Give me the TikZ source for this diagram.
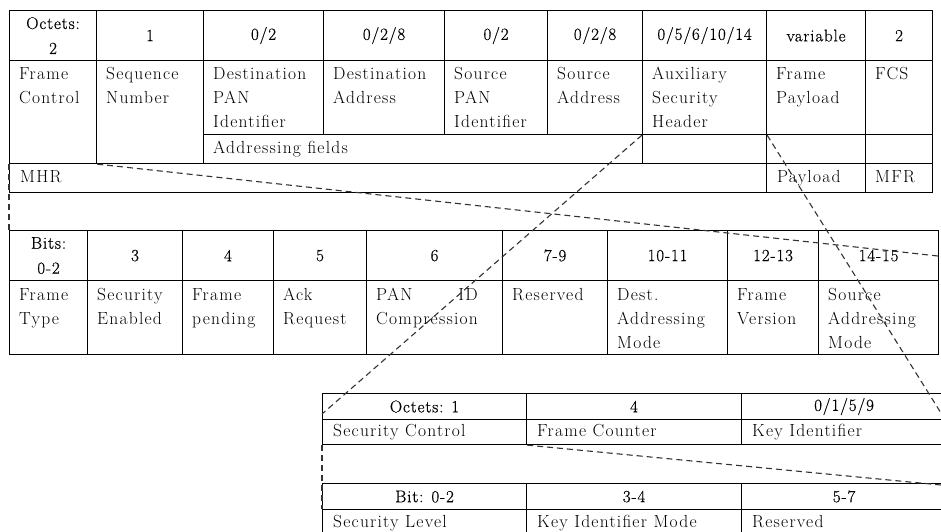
\documentclass[tikz,border=0pt]{standalone}
\usepackage{fontspec}
\setmainfont{Latin Modern Roman}[LetterSpace=7]
\newfontfamily\hdfont{Latin Modern Roman}[LetterSpace=5, FakeBold=0.4]
\begin{document}
\begin{tikzpicture}[x=1pt,y=-1pt,
  cell/.style={draw, line width=1.1pt, anchor=north west, inner sep=0pt, align=center,
    font=\hdfont\fontsize{17}{25}\selectfont},
  lab/.style={anchor=north west, inner sep=0pt, align=left, font=\fontsize{17.5}{24}\selectfont},
  slab/.style={anchor=west, inner sep=0pt, text height=12pt, text depth=3.5pt, font=\fontsize{17.5}{18}\selectfont},
  zoomline/.style={draw=black!80, line width=1.1pt, dash pattern=on 6pt off 4pt}]
\useasboundingbox (0,0) rectangle (941,531);
\clip (0,0) rectangle (941,531);
\fill[white] (0,0) rectangle (941,531);
% ---------- MAC frame table ----------
\node[cell, minimum width=87pt, minimum height=50pt] (h1) at (9,10) {Octets:\\2};
\node[cell, minimum width=107pt, minimum height=50pt] (h2) at (96,10) {1};
\node[cell, minimum width=120pt, minimum height=50pt] (h3) at (203,10) {0/2};
\node[cell, minimum width=121pt, minimum height=50pt] (h4) at (323,10) {0/2/8};
\node[cell, minimum width=103pt, minimum height=50pt] (h5) at (444,10) {0/2};
\node[cell, minimum width=95pt, minimum height=50pt] (h6) at (547,10) {0/2/8};
\node[cell, minimum width=124pt, minimum height=50pt] (h7) at (642,10) {0/5/6/10/14};
\node[cell, minimum width=99pt, minimum height=50pt] (h8) at (766,10) {variable};
\node[cell, minimum width=67pt, minimum height=50pt] (h9) at (865,10) {2};
% field cells
\node[cell, minimum width=87pt, minimum height=103pt] (fc) at (9,60) {};
\node[cell, minimum width=107pt, minimum height=103pt] (sn) at (96,60) {};
\node[cell, minimum width=120pt, minimum height=74pt] (dpan) at (203,60) {};
\node[cell, minimum width=121pt, minimum height=74pt] (dadr) at (323,60) {};
\node[cell, minimum width=103pt, minimum height=74pt] (span) at (444,60) {};
\node[cell, minimum width=95pt, minimum height=74pt] (sadr) at (547,60) {};
\node[cell, minimum width=124pt, minimum height=74pt] (ash) at (642,60) {};
\node[cell, minimum width=99pt, minimum height=74pt] (fp) at (766,60) {};
\node[cell, minimum width=67pt, minimum height=74pt] (fcs) at (865,60) {};
\node[lab] at ([xshift=10pt,yshift=-6pt]fc.north west) {\rule{0pt}{13pt}Frame\\Control};
\node[lab] at ([xshift=10pt,yshift=-6pt]sn.north west) {\rule{0pt}{13pt}Sequence\\Number};
\node[lab] at ([xshift=10pt,yshift=-6pt]dpan.north west) {\rule{0pt}{13pt}Destination\\PAN\\Identifier};
\node[lab] at ([xshift=10pt,yshift=-6pt]dadr.north west) {\rule{0pt}{13pt}Destination\\Address};
\node[lab] at ([xshift=10pt,yshift=-6pt]span.north west) {\rule{0pt}{13pt}Source\\PAN\\Identifier};
\node[lab] at ([xshift=10pt,yshift=-6pt]sadr.north west) {\rule{0pt}{13pt}Source\\Address};
\node[lab] at ([xshift=10pt,yshift=-6pt]ash.north west) {\rule{0pt}{13pt}Auxiliary\\Security\\Header};
\node[lab] at ([xshift=10pt,yshift=-6pt]fp.north west) {\rule{0pt}{13pt}Frame\\Payload};
\node[lab] at ([xshift=10pt,yshift=-6pt]fcs.north west) {\rule{0pt}{13pt}FCS};
% grouping rows
\node[cell, minimum width=439pt, minimum height=29pt] (addr) at (203,134) {};
\node[cell, minimum width=124pt, minimum height=29pt] (g2) at (642,134) {};
\node[cell, minimum width=99pt, minimum height=29pt] (g3) at (766,134) {};
\node[cell, minimum width=67pt, minimum height=29pt] (g4) at (865,134) {};
\node[slab] at ([xshift=10pt]addr.west) {Addressing fields};
\node[cell, minimum width=757pt, minimum height=29pt] (mhr) at (9,163) {};
\node[cell, minimum width=99pt, minimum height=29pt] (pl) at (766,163) {};
\node[cell, minimum width=67pt, minimum height=29pt] (mfr) at (865,163) {};
\node[slab] at ([xshift=11pt]mhr.west) {MHR};
\node[slab] at ([xshift=11pt]pl.west) {Payload};
\node[slab] at ([xshift=10pt]mfr.west) {MFR};
% ---------- Frame control bits ----------
\node[cell, minimum width=78pt, minimum height=50pt] (b1) at (9,230) {Bits:\\0-2};
\node[cell, minimum width=95pt, minimum height=50pt] (b2) at (87,230) {3};
\node[cell, minimum width=91pt, minimum height=50pt] (b3) at (182,230) {4};
\node[cell, minimum width=93pt, minimum height=50pt] (b4) at (273,230) {5};
\node[cell, minimum width=136pt, minimum height=50pt] (b5) at (366,230) {6};
\node[cell, minimum width=105pt, minimum height=50pt] (b6) at (502,230) {7-9};
\node[cell, minimum width=120pt, minimum height=50pt] (b7) at (607,230) {10-11};
\node[cell, minimum width=91pt, minimum height=50pt] (b8) at (727,230) {12-13};
\node[cell, minimum width=120pt, minimum height=50pt] (b9) at (818,230) {14-15};
\node[cell, minimum width=78pt, minimum height=74pt] (ft) at (9,280) {};
\node[cell, minimum width=95pt, minimum height=74pt] (se) at (87,280) {};
\node[cell, minimum width=91pt, minimum height=74pt] (fpd) at (182,280) {};
\node[cell, minimum width=93pt, minimum height=74pt] (ar) at (273,280) {};
\node[cell, minimum width=136pt, minimum height=74pt] (pc) at (366,280) {};
\node[cell, minimum width=105pt, minimum height=74pt] (rs) at (502,280) {};
\node[cell, minimum width=120pt, minimum height=74pt] (dam) at (607,280) {};
\node[cell, minimum width=91pt, minimum height=74pt] (fv) at (727,280) {};
\node[cell, minimum width=120pt, minimum height=74pt] (sam) at (818,280) {};
\node[lab] at ([xshift=10pt,yshift=-7pt]ft.north west) {\rule{0pt}{13pt}Frame\\Type};
\node[lab] at ([xshift=10pt,yshift=-7pt]se.north west) {\rule{0pt}{13pt}Security\\Enabled};
\node[lab] at ([xshift=10pt,yshift=-7pt]fpd.north west) {\rule{0pt}{13pt}Frame\\pending};
\node[lab] at ([xshift=10pt,yshift=-7pt]ar.north west) {\rule{0pt}{13pt}Ack\\Request};
\node[lab] at ([xshift=10pt,yshift=-7pt]pc.north west) {\rule{0pt}{13pt}\rlap{PAN}\hphantom{Compression}\llap{ID}\\Compression};
\node[lab] at ([xshift=10pt,yshift=-7pt]rs.north west) {\rule{0pt}{13pt}Reserved};
\node[lab] at ([xshift=10pt,yshift=-7pt]dam.north west) {\rule{0pt}{13pt}Dest.\\Addressing\\Mode};
\node[lab] at ([xshift=10pt,yshift=-7pt]fv.north west) {\rule{0pt}{13pt}Frame\\Version};
\node[lab] at ([xshift=10pt,yshift=-7pt]sam.north west) {\rule{0pt}{13pt}Source\\Addressing\\Mode};
% ---------- Auxiliary security header ----------
\node[cell, minimum width=204pt, minimum height=26pt] (a1) at (322,393) {Octets: 1};
\node[cell, minimum width=215pt, minimum height=26pt] (a2) at (526,393) {4};
\node[cell, minimum width=205pt, minimum height=26pt] (a3) at (741,393) {0/1/5/9};
\node[cell, minimum width=204pt, minimum height=25pt] (sc) at (322,419) {};
\node[cell, minimum width=215pt, minimum height=25pt] (fcn) at (526,419) {};
\node[cell, minimum width=205pt, minimum height=25pt] (kid) at (741,419) {};
\node[slab] at ([xshift=11pt]sc.west) {Security Control};
\node[slab] at ([xshift=11pt]fcn.west) {Frame Counter};
\node[slab] at ([xshift=11pt]kid.west) {Key Identifier};
% ---------- Security control bits ----------
\node[cell, minimum width=204pt, minimum height=26pt] (s1) at (322,483) {Bit: 0-2};
\node[cell, minimum width=215pt, minimum height=26pt] (s2) at (526,483) {3-4};
\node[cell, minimum width=205pt, minimum height=26pt] (s3) at (741,483) {5-7};
\node[cell, minimum width=204pt, minimum height=26pt] (sl) at (322,509) {};
\node[cell, minimum width=215pt, minimum height=26pt] (kim) at (526,509) {};
\node[cell, minimum width=205pt, minimum height=26pt] (rsv) at (741,509) {};
\node[slab] at ([xshift=11pt,yshift=-1pt]sl.west) {Security Level};
\node[slab] at ([xshift=11pt,yshift=-1pt]kim.west) {Key Identifier Mode};
\node[slab] at ([xshift=11pt,yshift=-1pt]rsv.west) {Reserved};
% ---------- zoom connectors ----------
\coordinate (e1) at (938,256);
\coordinate (e2) at (322,414);
\coordinate (e3) at (941,413);
\coordinate (e4) at (941,485);
\draw[zoomline] (fc.south west) -- (b1.north west);
\draw[zoomline] (fc.south east) -- (e1);
\draw[zoomline] (ash.south west) -- (e2);
\draw[zoomline] (ash.south east) -- (e3);
\draw[zoomline] (sc.south west) -- (sl.north west);
\draw[zoomline] (sc.south east) -- (e4);
\end{tikzpicture}
\end{document}
